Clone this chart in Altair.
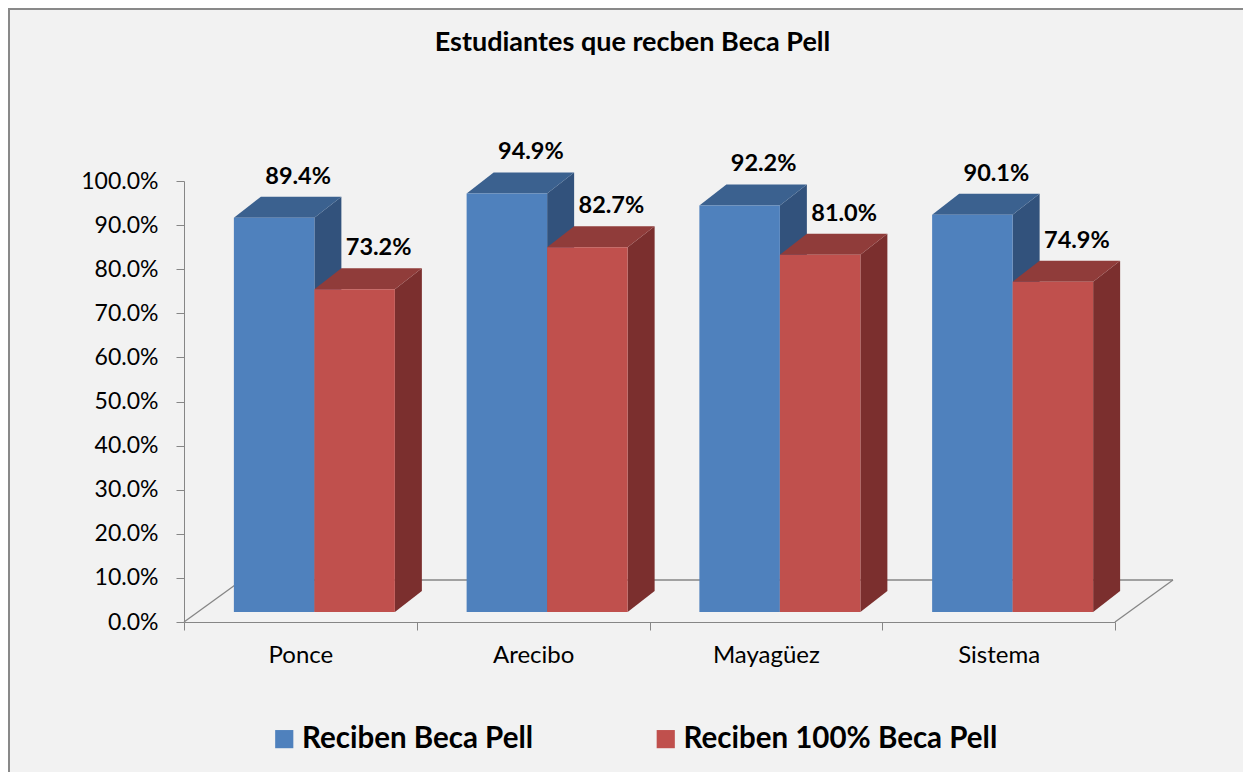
import altair as alt
import pandas as pd

# ---- data ----
categories = ["Ponce", "Arecibo", "Mayagüez", "Sistema"]
series = ["Reciben Beca Pell", "Reciben 100% Beca Pell"]
reciben = [0.894, 0.949, 0.922, 0.901]
reciben_100 = [0.732, 0.827, 0.810, 0.749]

front_colors = ["#4f81bd", "#c0504d"]
top_colors = ["#3b618f", "#903c3a"]
side_colors = ["#32527c", "#7b2f2e"]

# ---- layout constants (pixels) ----
W, H = 931, 441
PXX = W / len(categories)   # px per category unit
PXY = H                      # px per 1.0
SX, SY = 14 / PXX, 10 / PXY          # front plane shift
DX, DY = 27 / PXX, 21 / PXY          # bar depth
FX, FY = 58 / PXX, 42 / PXY          # floor depth
BW = 80.5 / PXX                      # bar width

values = [reciben, reciben_100]
front_rows, side_rows, top_rows = [], [], []
for i, cat in enumerate(categories):
    for j, s in enumerate(series):
        v = values[j][i]
        left = i + 0.5 - BW + j * BW + SX
        right = left + BW
        bottom = SY
        top = v + SY
        bid = f"{cat}-{j}"
        front_rows.append(dict(cat=cat, serie=s, j=j, left=left, right=right,
                               bottom=bottom, top=top, center=(left + right) / 2,
                               v=v, label=f"{v*100:.1f}%"))
        side_rows += [
            dict(bid=bid, j=j, x=right, y=top, y2=bottom, c=side_colors[j]),
            dict(bid=bid, j=j, x=right + DX, y=top + DY, y2=bottom + DY, c=side_colors[j]),
        ]
        top_rows += [
            dict(bid=bid, j=j, y=top, x=left, x2=right, c=top_colors[j]),
            dict(bid=bid, j=j, y=top + DY, x=left + DX, x2=right + DX, c=top_colors[j]),
        ]

front = pd.DataFrame(front_rows)
side = pd.DataFrame(side_rows)
topf = pd.DataFrame(top_rows)
n = len(categories)
floor = pd.DataFrame([
    dict(x=0, y=0, x2=FX, y2=FY),
    dict(x=n, y=0, x2=n + FX, y2=FY),
    dict(x=FX, y=FY, x2=n + FX, y2=FY),
])

xs = alt.Scale(domain=[0, n], nice=False, zero=False)
ys = alt.Scale(domain=[0, 1], nice=False, zero=False)
GRAY = "#868686"
FONT = "Lato"

label_expr = "[" + ",".join(f"'{c}'" for c in categories) + ",''][datum.value]"

x_axis = alt.Axis(values=list(range(n + 1)), labelExpr=label_expr, labelOffset=PXX / 2,
                  labelFlush=False, labelOverlap=False, labelBound=False, grid=False,
                  tickSize=8, labelPadding=13, labelFontSize=24, labelFont=FONT,
                  labelColor="#000000", domainColor=GRAY, tickColor=GRAY, title=None)
y_axis = alt.Axis(values=[k / 10 for k in range(11)], format=".1%", grid=False,
                  tickSize=8, labelPadding=18, labelFontSize=23, labelFont=FONT,
                  labelColor="#000000", domainColor=GRAY, tickColor=GRAY, title=None)

floor_l = alt.Chart(floor).mark_rule(color=GRAY, strokeWidth=1.3).encode(
    x=alt.X("x:Q", scale=xs, axis=x_axis), y=alt.Y("y:Q", scale=ys, axis=y_axis),
    x2="x2:Q", y2="y2:Q")

layers = [floor_l]
for j in range(2):
    sd = side[side.j == j]
    td = topf[topf.j == j]
    layers.append(alt.Chart(sd).mark_area(orient="vertical").encode(
        x=alt.X("x:Q", scale=xs), y=alt.Y("y:Q", scale=ys), y2="y2:Q",
        detail="bid:N", color=alt.Color("c:N", scale=None, legend=None)))
    layers.append(alt.Chart(td).mark_area(orient="horizontal").encode(
        y=alt.Y("y:Q", scale=ys), x=alt.X("x:Q", scale=xs), x2="x2:Q",
        detail="bid:N", color=alt.Color("c:N", scale=None, legend=None)))
    legend = None
    if j == 0:
        legend = alt.Legend(title=None, orient="none", direction="horizontal",
                            legendX=85.5, legendY=543, symbolType="square", symbolSize=330,
                            symbolStrokeWidth=0, labelFontSize=29.5, labelFont=FONT,
                            labelFontWeight="bold", labelColor="#000000", labelOffset=3,
                            columnPadding=117.5, padding=0, labelLimit=400)
    layers.append(alt.Chart(front).transform_filter(f"datum.j == {j}").mark_bar(
        stroke=None).encode(
        x=alt.X("left:Q", scale=xs), x2="right:Q",
        y=alt.Y("bottom:Q", scale=ys), y2="top:Q",
        color=alt.Color("serie:N", sort=series,
                        scale=alt.Scale(domain=series, range=front_colors),
                        legend=legend)))

labels = alt.Chart(front).mark_text(dx=24, dy=-41, font=FONT, fontSize=23.5,
                                    fontWeight="bold", color="#000000").encode(
    x=alt.X("center:Q", scale=xs), y=alt.Y("top:Q", scale=ys), text="label:N")
layers.append(labels)

frame_l = alt.Chart(floor).mark_rule(color="#898989", strokeWidth=2).encode(
    x=alt.value(-175), y=alt.value(-173), y2=alt.value(H + 150))
frame_t = alt.Chart(floor).mark_rule(color="#898989", strokeWidth=2).encode(
    y=alt.value(-172), x=alt.value(-176), x2=alt.value(W + 128))
layers += [frame_l, frame_t]

chart = alt.layer(*layers).resolve_scale(color="independent").properties(
    width=W, height=H,
    title=alt.Title("Estudiantes que recben Beca Pell", font=FONT, fontSize=27,
                    fontWeight="bold", color="#000000", anchor="middle",
                    offset=-50, dx=-17),
    padding={"left": 176, "top": 173, "right": 128, "bottom": 150},
    autosize=alt.AutoSizeParams(type="none"),
    background="#f2f2f2",
).configure_view(stroke=None)

chart.save("out.html", embed_options={"renderer": "svg", "actions": False})
